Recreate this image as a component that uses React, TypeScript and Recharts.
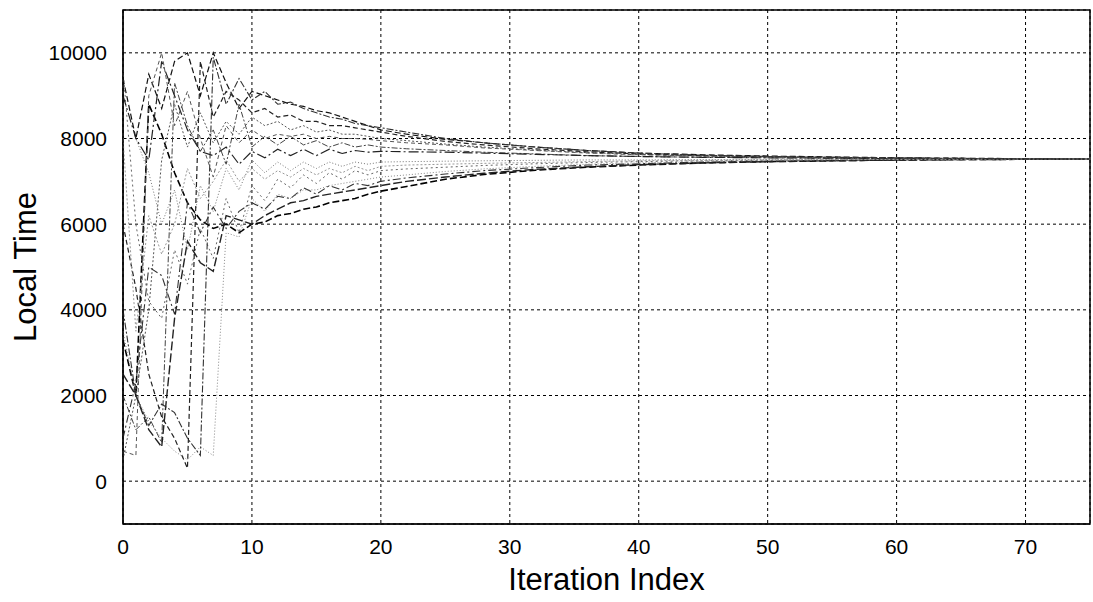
import React from "react";
import {
  CartesianGrid,
  Line,
  LineChart,
  ReferenceArea,
  XAxis,
  YAxis,
} from "recharts";

// iterations where values were read (dense early, sparse once converged)
const headIters = Array.from({ length: 21 }, (_, i) => i);
const tailIters = [22, 25, 28, 32, 36, 40, 45, 50, 55, 60, 65, 70, 75];

const xTicks = [0, 10, 20, 30, 40, 50, 60, 70];
const yTicks = [0, 2000, 4000, 6000, 8000, 10000];

// local time per node, iterations 0..20
const node1 = [3300, 2000, 8800, 8100, 7200, 6500, 6100, 5900, 6000, 5800, 6000, 6050, 6200, 6250, 6350, 6400, 6500, 6550, 6600, 6700, 6770];
const node2 = [9400, 8000, 9500, 8700, 9800, 10000, 9000, 10000, 9300, 8700, 9100, 9000, 8900, 8800, 8750, 8650, 8600, 8500, 8400, 8300, 8200];
const node3 = [500, 2000, 4000, 7500, 8800, 7800, 8600, 7900, 8400, 8100, 8500, 8300, 8400, 8200, 8300, 8150, 8200, 8100, 8100, 8050, 8000];
const node4 = [8000, 8000, 7200, 6000, 6800, 5400, 6900, 6300, 7300, 6800, 7500, 7200, 7450, 7250, 7450, 7300, 7450, 7350, 7450, 7400, 7450];
const node5 = [1000, 2300, 5000, 4800, 3900, 6500, 5800, 6400, 5900, 6300, 6500, 6350, 6650, 6600, 6850, 6700, 6900, 6800, 6950, 6900, 7000];
const node6 = [9600, 6000, 4200, 3800, 5400, 4600, 5900, 5200, 6600, 5800, 6900, 6550, 7050, 6850, 7150, 6950, 7200, 7050, 7250, 7150, 7250];
const node7 = [6000, 4500, 2500, 1500, 1000, 300, 9800, 8500, 9100, 8900, 8600, 8700, 8500, 8550, 8400, 8400, 8300, 8300, 8250, 8200, 8150];
const node8 = [2000, 1200, 1500, 900, 9300, 8300, 7700, 8200, 7400, 8800, 7800, 8050, 7850, 8050, 7850, 7950, 7800, 7900, 7800, 7850, 7800];
const node9 = [3500, 2000, 1400, 1000, 700, 500, 800, 600, 5800, 5700, 6600, 6300, 6700, 6600, 6800, 6800, 6900, 6950, 7000, 7050, 7100];
const node10 = [9000, 8000, 7500, 9800, 9000, 8200, 7700, 7600, 7800, 7400, 7700, 7550, 7750, 7600, 7750, 7600, 7750, 7650, 7720, 7680, 7700];
const node11 = [700, 600, 9000, 10000, 8300, 9100, 8000, 7100, 8300, 7900, 8200, 8000, 8100, 8050, 8100, 8000, 8050, 8000, 8000, 7980, 7950];
const node12 = [2500, 2000, 1200, 800, 3800, 5600, 5100, 4900, 6200, 6100, 6000, 6200, 6350, 6500, 6550, 6650, 6700, 6750, 6800, 6850, 6900];
const node13 = [8000, 3500, 6200, 5300, 6000, 7300, 6600, 7000, 7500, 7000, 7300, 7050, 7250, 7100, 7300, 7150, 7300, 7200, 7350, 7250, 7350];
const node14 = [4000, 2000, 1300, 1800, 1600, 1000, 600, 9900, 8800, 9400, 8900, 9100, 8800, 8850, 8700, 8600, 8500, 8450, 8350, 8300, 8250];

// same nodes at the tail iterations
const tail1 = [6880, 7050, 7160, 7260, 7330, 7380, 7430, 7460, 7480, 7500, 7510, 7515, 7520];
const tail2 = [8100, 7980, 7900, 7800, 7720, 7660, 7620, 7590, 7570, 7550, 7540, 7530, 7525];
const tail3 = [7950, 7870, 7800, 7730, 7670, 7630, 7590, 7570, 7550, 7540, 7530, 7525, 7520];
const tail4 = [7460, 7470, 7480, 7490, 7500, 7500, 7510, 7510, 7515, 7515, 7520, 7520, 7520];
const tail5 = [7080, 7170, 7250, 7320, 7380, 7410, 7450, 7470, 7490, 7500, 7510, 7515, 7520];
const tail6 = [7290, 7330, 7370, 7410, 7440, 7460, 7480, 7490, 7500, 7510, 7515, 7520, 7520];
const tail7 = [8050, 7930, 7850, 7760, 7690, 7640, 7600, 7580, 7560, 7545, 7535, 7525, 7520];
const tail8 = [7760, 7720, 7680, 7640, 7600, 7580, 7560, 7550, 7540, 7530, 7525, 7520, 7520];
const tail9 = [7150, 7230, 7290, 7350, 7400, 7430, 7460, 7480, 7495, 7505, 7510, 7515, 7520];
const tail10 = [7690, 7680, 7660, 7630, 7600, 7580, 7560, 7550, 7540, 7530, 7525, 7520, 7520];
const tail11 = [7900, 7850, 7780, 7720, 7660, 7620, 7590, 7570, 7550, 7540, 7530, 7525, 7520];
const tail12 = [7000, 7100, 7190, 7280, 7340, 7390, 7430, 7460, 7480, 7495, 7505, 7515, 7520];
const tail13 = [7380, 7400, 7420, 7440, 7460, 7480, 7490, 7500, 7505, 7510, 7515, 7520, 7520];
const tail14 = [8150, 8000, 7900, 7800, 7720, 7660, 7610, 7580, 7560, 7545, 7535, 7525, 7520];

const heads = [node1, node2, node3, node4, node5, node6, node7, node8, node9, node10, node11, node12, node13, node14];
const tails = [tail1, tail2, tail3, tail4, tail5, tail6, tail7, tail8, tail9, tail10, tail11, tail12, tail13, tail14];

const styles = [
  { stroke: "#000", width: 1.6, dash: "7 3" },
  { stroke: "#111", width: 1.2, dash: "6 3" },
  { stroke: "#555", width: 1, dash: "2 2" },
  { stroke: "#777", width: 1, dash: "1 2" },
  { stroke: "#333", width: 1.1, dash: "8 3 2 3" },
  { stroke: "#666", width: 1, dash: "2 3" },
  { stroke: "#222", width: 1.2, dash: "5 3" },
  { stroke: "#444", width: 1, dash: "6 2 2 2" },
  { stroke: "#888", width: 1, dash: "1 2" },
  { stroke: "#222", width: 1.2, dash: "10 3 2 3" },
  { stroke: "#555", width: 1, dash: "4 3" },
  { stroke: "#222", width: 1.4, dash: "9 3" },
  { stroke: "#999", width: 1, dash: "2 2" },
  { stroke: "#333", width: 1.1, dash: "7 2 2 2" },
];

const data = [...headIters, ...tailIters].map((x, i) => {
  const row: Record<string, number> = { x };
  heads.forEach((h, s) => {
    row[`n${s + 1}`] = i < headIters.length ? h[i] : tails[s][i - headIters.length];
  });
  return row;
});

const font = "'Liberation Sans', Arial, Helvetica, sans-serif";

export default function App() {
  return (
    <div style={{ position: "absolute", left: 0, top: 0, background: "#fff", fontFamily: font }}>
      <LineChart
        width={1093}
        height={602}
        data={data}
        margin={{ top: 10, right: 3, left: 0, bottom: 0 }}
      >
        <CartesianGrid stroke="#000" strokeDasharray="3 3" strokeWidth={1} />
        <XAxis
          dataKey="x"
          type="number"
          domain={[0, 75]}
          ticks={xTicks}
          allowDataOverflow
          height={78}
          stroke="#000"
          tickLine={false}
          tickMargin={9}
          tick={{ fontSize: 21, fill: "#000", fontFamily: font }}
          label={{
            value: "Iteration Index",
            position: "insideBottom",
            offset: 12,
            fontSize: 31,
            fill: "#000",
            fontFamily: font,
          }}
        />
        <YAxis
          type="number"
          domain={[-1000, 11000]}
          ticks={yTicks}
          allowDataOverflow
          width={123}
          stroke="#000"
          tickLine={false}
          tickMargin={10}
          tick={{ fontSize: 21, fill: "#000", fontFamily: font }}
          label={{
            value: "Local Time",
            angle: -90,
            position: "insideLeft",
            offset: 25,
            fontSize: 31,
            fill: "#000",
            fontFamily: font,
            style: { textAnchor: "middle" },
          }}
        />
        <ReferenceArea x1={0} x2={75} y1={-1000} y2={11000} fill="none" stroke="#000" strokeWidth={1.5} />
        {styles.map((st, s) => (
          <Line
            key={s}
            type="linear"
            dataKey={`n${s + 1}`}
            stroke={st.stroke}
            strokeWidth={st.width}
            strokeDasharray={st.dash || undefined}
            dot={false}
            isAnimationActive={false}
          />
        ))}
      </LineChart>
    </div>
  );
}
